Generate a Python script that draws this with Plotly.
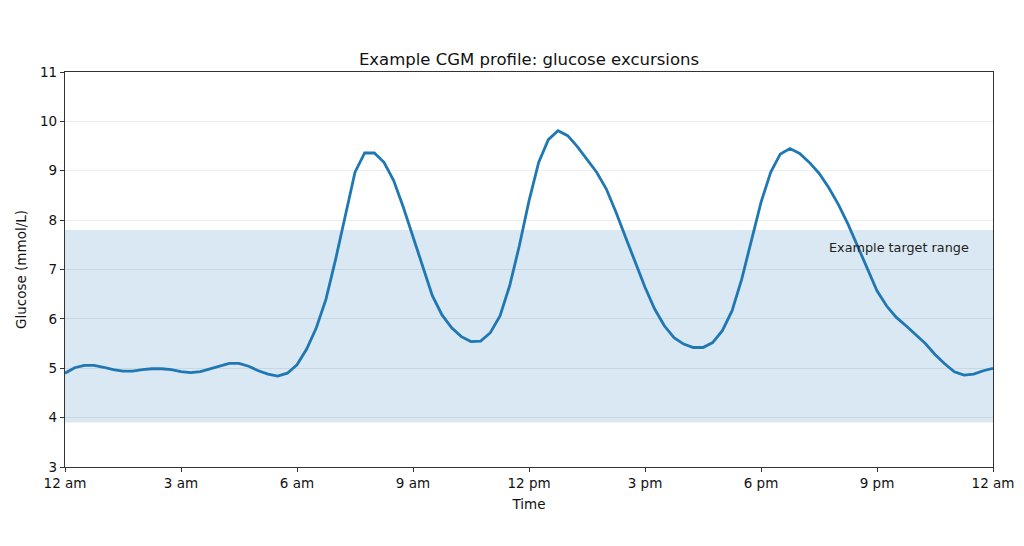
import plotly.graph_objects as go

# Sample times (hours after midnight), one reading every 15 minutes
hours = [k / 4 for k in range(97)]

glucose = [
    4.90, 5.01, 5.06, 5.06, 5.02, 4.97, 4.94, 4.94, 4.97, 4.99, 4.99, 4.97,
    4.93, 4.91, 4.93, 4.99, 5.05, 5.10, 5.10, 5.04, 4.95, 4.88, 4.84, 4.90,
    5.07, 5.39, 5.82, 6.40, 7.21, 8.09, 8.97, 9.36, 9.36, 9.17, 8.80, 8.26,
    7.65, 7.04, 6.47, 6.08, 5.82, 5.64, 5.54, 5.55, 5.72, 6.06, 6.67, 7.48,
    8.39, 9.17, 9.63, 9.81, 9.71, 9.49, 9.24, 8.97, 8.63, 8.16, 7.65, 7.14,
    6.64, 6.20, 5.86, 5.62, 5.49, 5.42, 5.42, 5.52, 5.76, 6.16, 6.80, 7.58,
    8.36, 8.97, 9.34, 9.45, 9.35, 9.17, 8.95, 8.66, 8.32, 7.92, 7.48, 7.01,
    6.57, 6.26, 6.03, 5.86, 5.68, 5.50, 5.28, 5.09, 4.93, 4.86, 4.88, 4.95,
    5.00,
]

target_low = 3.9
target_high = 7.8

tick_hours = [0, 3, 6, 9, 12, 15, 18, 21, 24]
tick_labels = ["12 am", "3 am", "6 am", "9 am", "12 pm", "3 pm", "6 pm", "9 pm", "12 am"]

FONT = "DejaVu Sans, Liberation Sans, sans-serif"

fig = go.Figure()
fig.add_trace(
    go.Scatter(
        x=hours, y=glucose, mode="lines",
        line={"color": "#1f77b4", "width": 2.8},
        showlegend=False, hoverinfo="x+y",
    )
)

# target range band
fig.add_shape(
    type="rect", xref="x", yref="y",
    x0=hours[0], x1=hours[-1], y0=target_low, y1=target_high,
    fillcolor="rgba(31,119,180,0.17)", line={"width": 0}, layer="below",
)
fig.add_annotation(
    x=23.43, y=7.45, xref="x", yref="y", text="Example target range",
    showarrow=False, xanchor="right", yanchor="middle",
    font={"family": FONT, "size": 12.8, "color": "#222"},
)

axis_common = dict(
    showline=True, linecolor="#333", linewidth=1.2, mirror=True,
    ticks="outside", ticklen=4, tickcolor="#333", tickwidth=1.2,
    tickfont={"family": FONT, "size": 13.5, "color": "#111"},
    zeroline=False,
)
fig.update_xaxes(
    range=[0, 24], tickvals=tick_hours, ticktext=tick_labels, showgrid=False,
    title={"text": "Time", "font": {"family": FONT, "size": 13.5, "color": "#111"}, "standoff": 9},
    **axis_common,
)
fig.update_yaxes(
    range=[3, 11], dtick=1, showgrid=True, gridcolor="rgba(0,0,0,0.07)", gridwidth=1,
    title={"text": "Glucose (mmol/L)", "font": {"family": FONT, "size": 13.5, "color": "#111"}, "standoff": 10},
    **axis_common,
)
fig.update_layout(
    width=1024, height=546,
    margin={"l": 57, "r": 39, "t": 64, "b": 87},
    paper_bgcolor="white", plot_bgcolor="white",
    title={
        "text": "Example CGM profile: glucose excursions",
        "x": 0.5, "xref": "paper", "y": 1, "yref": "paper", "yanchor": "bottom",
        "pad": {"b": 7},
        "font": {"family": FONT, "size": 16.5, "color": "#111"},
    },
)

fig.write_html("out.html")
